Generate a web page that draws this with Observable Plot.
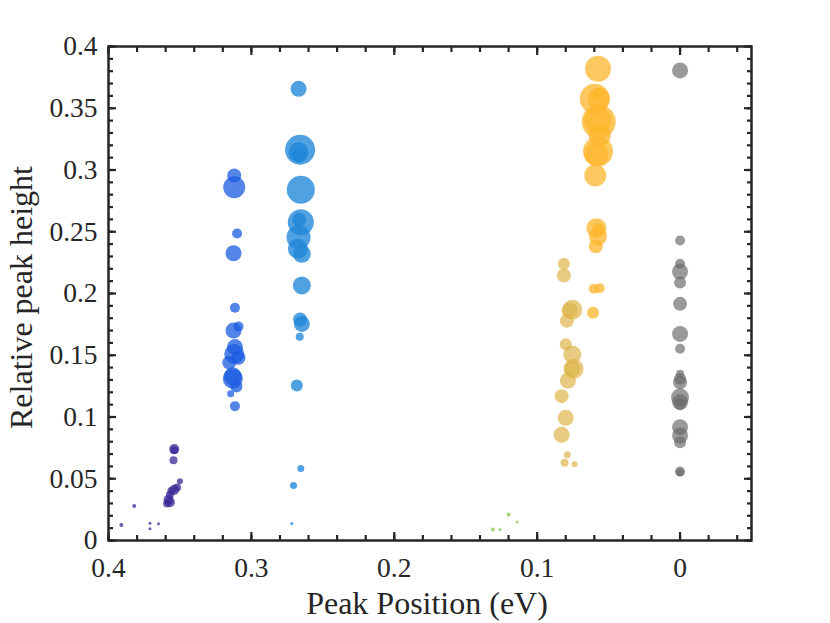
<!DOCTYPE html>
<html><head><meta charset="utf-8">
<script src="https://cdn.jsdelivr.net/npm/d3@7"></script>
<script src="https://cdn.jsdelivr.net/npm/@observablehq/plot@0.6"></script>
<style>body{margin:0;background:#fff}</style>
</head><body><div id="chart"></div>
<script>
// [peak position (eV), relative peak height, weight]
const groupA = [[0.391,0.0125,2],[0.382,0.028,2],[0.371,0.014,1.5],[0.371,0.0095,1.5],[0.365,0.0135,1.5],
  [0.354,0.074,5],[0.354,0.073,4],[0.3545,0.065,4],[0.350,0.048,3],[0.352,0.043,4],[0.354,0.041,5],
  [0.356,0.040,4],[0.357,0.037,4],[0.358,0.033,5],[0.359,0.030,4],[0.357,0.031,5]];
const groupB = [[0.312,0.2955,7],[0.312,0.286,11],[0.310,0.2486,5],[0.3125,0.2326,8],[0.3115,0.1884,5],
  [0.3125,0.170,8],[0.309,0.1733,5],[0.3115,0.1566,8],[0.312,0.151,10],[0.3155,0.144,7],[0.309,0.148,7],
  [0.313,0.133,9],[0.313,0.131,10],[0.3105,0.1247,6],[0.3145,0.1188,3.5],[0.3115,0.1088,5]];
const groupC = [[0.267,0.3657,8],[0.2659,0.3164,15],[0.267,0.3144,10],[0.2665,0.3117,7],[0.2654,0.284,14],
  [0.2654,0.2577,13],[0.2665,0.2597,7],[0.267,0.2456,12],[0.2675,0.2362,10],[0.2647,0.2321,9],
  [0.2647,0.2065,9],[0.2659,0.179,7],[0.2647,0.1754,8],[0.2662,0.165,4],[0.2682,0.1255,6],
  [0.2654,0.0583,3.5],[0.2705,0.0445,3.5],[0.2717,0.0138,1.5]];
const groupD = [[0.131,0.009,2],[0.126,0.009,1.5],[0.120,0.021,2],[0.114,0.015,1.5]];
const groupE = [[0.0813,0.224,6],[0.0813,0.2146,7],[0.0754,0.1868,10],[0.0773,0.1863,8],[0.0792,0.178,7],
  [0.080,0.159,6],[0.0754,0.1506,9],[0.0745,0.139,10],[0.0754,0.139,8],[0.0785,0.1295,8],
  [0.0829,0.1169,7],[0.080,0.0993,8],[0.0829,0.0856,8],[0.0789,0.0694,3.5],[0.0808,0.0629,4],[0.0738,0.0618,3]];
const groupF = [[0.0574,0.382,13],[0.0597,0.3576,15],[0.0569,0.3576,11],[0.0574,0.3617,6],[0.0569,0.339,17],
  [0.0576,0.340,14],[0.0562,0.328,11],[0.0574,0.315,15],[0.0585,0.313,12],[0.0593,0.2955,11],
  [0.0585,0.2529,10],[0.0574,0.2524,6],[0.0574,0.2462,9],[0.0590,0.2383,7],[0.0604,0.2038,5],
  [0.0562,0.2043,5],[0.0609,0.1844,6]];
const groupG = [[0,0.3806,8],[0,0.2429,5],[0,0.224,5],[0,0.2178,8],[0,0.209,6],[0,0.1916,7],[0,0.1673,8],
  [0,0.1552,5],[0,0.135,4],[0,0.131,6],[0,0.128,7],[0,0.116,9],[0,0.112,8],[0,0.1107,6],
  [0,0.0918,8],[0,0.085,8],[0,0.0796,6],[0,0.0559,5],[0,0.055,4]];
const groups = [
  {data: groupA, color: "#3a2896", op: 0.75},
  {data: groupB, color: "#1a5be0", op: 0.75},
  {data: groupC, color: "#1f86d8", op: 0.78},
  {data: groupD, color: "#9ccb6e", op: 0.9},
  {data: groupE, color: "#deb54a", op: 0.7},
  {data: groupF, color: "#fdb52c", op: 0.75},
  {data: groupG, color: "#6a6a6a", op: 0.68}
];
const xMajor = [0.4, 0.3, 0.2, 0.1, 0];
const xMinor = d3.range(0, 23).map(i => +(0.4 - i * 0.02).toFixed(2)).filter(v => v >= -0.05);
const yMajor = [0, 0.05, 0.1, 0.15, 0.2, 0.25, 0.3, 0.35, 0.4];
const yMinor = d3.range(0, 41).map(i => +(i * 0.01).toFixed(2));
const fmt = d => d === 0 ? "0" : String(+d.toFixed(2));
const ink = "#262626";
const serif = "'Liberation Serif', 'Times New Roman', serif";

const marks = [];
for (const g of groups) {
  marks.push(Plot.dot(g.data, {x: d => d[0], y: d => d[1], r: d => d[2], fill: g.color, fillOpacity: g.op, stroke: "none"}));
}
const none = () => "";
const tk = {stroke: ink, strokeWidth: 2.2, label: null, tickFormat: none};
marks.push(
  Plot.axisX({...tk, anchor: "bottom", ticks: xMajor, tickSize: -8}),
  Plot.axisX({...tk, anchor: "bottom", ticks: xMinor, tickSize: -5}),
  Plot.axisX({...tk, anchor: "top", ticks: xMajor, tickSize: -8}),
  Plot.axisX({...tk, anchor: "top", ticks: xMinor, tickSize: -5}),
  Plot.axisY({...tk, anchor: "left", ticks: yMajor, tickSize: -8}),
  Plot.axisY({...tk, anchor: "left", ticks: yMinor, tickSize: -5}),
  Plot.axisY({...tk, anchor: "right", ticks: yMajor, tickSize: -8}),
  Plot.axisY({...tk, anchor: "right", ticks: yMinor, tickSize: -5}),
  Plot.frame({stroke: ink, strokeWidth: 2.5}),
  Plot.text(xMajor, {x: d => d, text: fmt, frameAnchor: "bottom", lineAnchor: "middle", textAnchor: "middle", dy: 27.5, fontSize: 27.5, fontFamily: serif, fill: ink}),
  Plot.text(yMajor, {y: d => d, text: fmt, frameAnchor: "left", lineAnchor: "middle", textAnchor: "end", dx: -11, fontSize: 27.5, fontFamily: serif, fill: ink}),
  Plot.text(["Peak Position (eV)"], {frameAnchor: "bottom", lineAnchor: "middle", textAnchor: "middle", dx: -3, dy: 63, fontSize: 32, fontFamily: serif, fill: ink}),
  Plot.text(["Relative peak height"], {frameAnchor: "left", lineAnchor: "middle", textAnchor: "middle", dx: -87, dy: 4, rotate: -90, fontSize: 32, fontFamily: serif, fill: ink})
);

const chart = Plot.plot({
  width: 830, height: 623,
  marginLeft: 108, marginRight: 79, marginTop: 46, marginBottom: 83,
  style: {fontFamily: serif, background: "#fff", overflow: "visible"},
  x: {domain: [0.4, -0.05], axis: null},
  y: {domain: [0, 0.4], axis: null},
  r: {type: "linear", domain: [0, 20], range: [0, 20]},
  marks
});
document.getElementById("chart").appendChild(chart);
</script></body></html>
